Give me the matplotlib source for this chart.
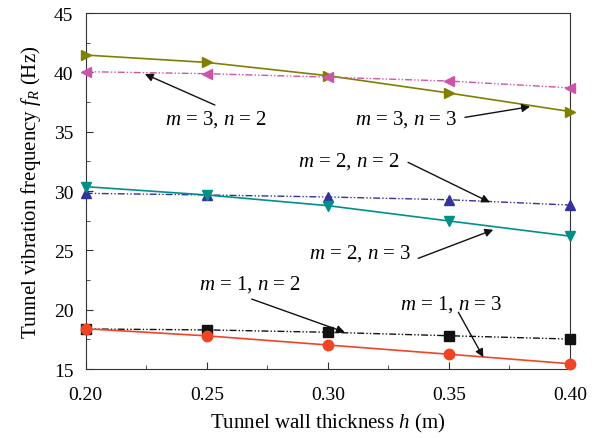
import matplotlib.pyplot as plt
from matplotlib.ticker import MultipleLocator

plt.rcParams['font.family'] = 'Liberation Serif'
plt.rcParams['mathtext.fontset'] = 'custom'
plt.rcParams['mathtext.rm'] = 'Liberation Serif'
plt.rcParams['mathtext.it'] = 'Liberation Serif:italic'

# Data
h = [0.20, 0.25, 0.30, 0.35, 0.40]
f_m1n2 = [18.38, 18.30, 18.10, 17.81, 17.53]
f_m1n3 = [18.40, 17.80, 17.03, 16.25, 15.45]
f_m2n2 = [29.81, 29.67, 29.50, 29.27, 28.82]
f_m2n3 = [30.37, 29.67, 28.77, 27.48, 26.20]
f_m3n2 = [40.06, 39.89, 39.60, 39.27, 38.70]
f_m3n3 = [41.46, 40.84, 39.72, 38.26, 36.70]

dashdotdot = (0, (5, 1.5, 1, 1.5, 1, 1.5))

fig = plt.figure(figsize=(6, 4.39), dpi=100)
ax = fig.add_axes([0.143, 0.157, 0.807, 0.811])

ax.plot(h, f_m3n3, color='#7f7f00', lw=1.2, marker='>', ms=7.5, clip_on=False, zorder=3)
ax.plot(h, f_m3n2, color='#cc55aa', lw=1.0, ls=dashdotdot, marker='<', ms=7.5, clip_on=False, zorder=3)
ax.plot(h, f_m2n2, color='#33339a', lw=1.0, ls=dashdotdot, marker='^', ms=7.5, clip_on=False, zorder=3)
ax.plot(h, f_m2n3, color='#009088', lw=1.2, marker='v', ms=7.5, clip_on=False, zorder=3)
ax.plot(h, f_m1n2, color='#111111', lw=1.0, ls=dashdotdot, marker='s', ms=6.5, clip_on=False, zorder=3)
ax.plot(h, f_m1n3, color='#f04424', lw=1.2, marker='o', ms=7.5, clip_on=False, zorder=3)

arrow = dict(arrowstyle='-|>', color='#111111', lw=1.0, mutation_scale=12, shrinkA=0, shrinkB=0)
fs = 15
ax.annotate('', xy=(0.2244, 39.86), xytext=(0.2533, 37.25), arrowprops=arrow)
ax.text(0.2537, 36.07, '$m$ = 3, $n$ = 2', fontsize=fs, ha='center', va='center')
ax.annotate('', xy=(0.3835, 37.11), xytext=(0.3566, 36.21), arrowprops=arrow)
ax.text(0.3325, 36.07, '$m$ = 3, $n$ = 3', fontsize=fs, ha='center', va='center')
ax.annotate('', xy=(0.3669, 29.05), xytext=(0.3331, 32.42), arrowprops=arrow)
ax.text(0.3087, 32.56, '$m$ = 2, $n$ = 2', fontsize=fs, ha='center', va='center')
ax.annotate('', xy=(0.3683, 26.74), xytext=(0.3373, 24.33), arrowprops=arrow)
ax.text(0.3132, 24.84, '$m$ = 2, $n$ = 3', fontsize=fs, ha='center', va='center')
ax.annotate('', xy=(0.307, 18.1), xytext=(0.2685, 20.9), arrowprops=arrow)
ax.text(0.2678, 22.17, '$m$ = 1, $n$ = 2', fontsize=fs, ha='center', va='center')
ax.annotate('', xy=(0.3642, 16.0), xytext=(0.3539, 19.78), arrowprops=arrow)
ax.text(0.3508, 20.48, '$m$ = 1, $n$ = 3', fontsize=fs, ha='center', va='center')

ax.set_xlim(0.2, 0.4)
ax.set_ylim(15, 45)
ax.xaxis.set_minor_locator(MultipleLocator(0.025))
ax.yaxis.set_major_locator(MultipleLocator(5))
ax.yaxis.set_minor_locator(MultipleLocator(2.5))
ax.set_xticks(h)
ax.set_xticklabels(['%.2f' % v for v in h])
ax.tick_params(which='both', direction='in', labelsize=14, color='#333333')
ax.tick_params(which='major', length=5)
ax.tick_params(which='minor', length=3)
ax.tick_params(axis='x', pad=12)
ax.tick_params(axis='y', pad=9)
for s in ax.spines.values():
    s.set_color('#333333')

ax.set_xlabel('Tunnel wall thickness $h$ (m)', fontsize=15, labelpad=6)
ax.set_ylabel('Tunnel vibration frequency $f_R$ (Hz)', fontsize=15, labelpad=8)

fig.savefig('out.png', dpi=100)
